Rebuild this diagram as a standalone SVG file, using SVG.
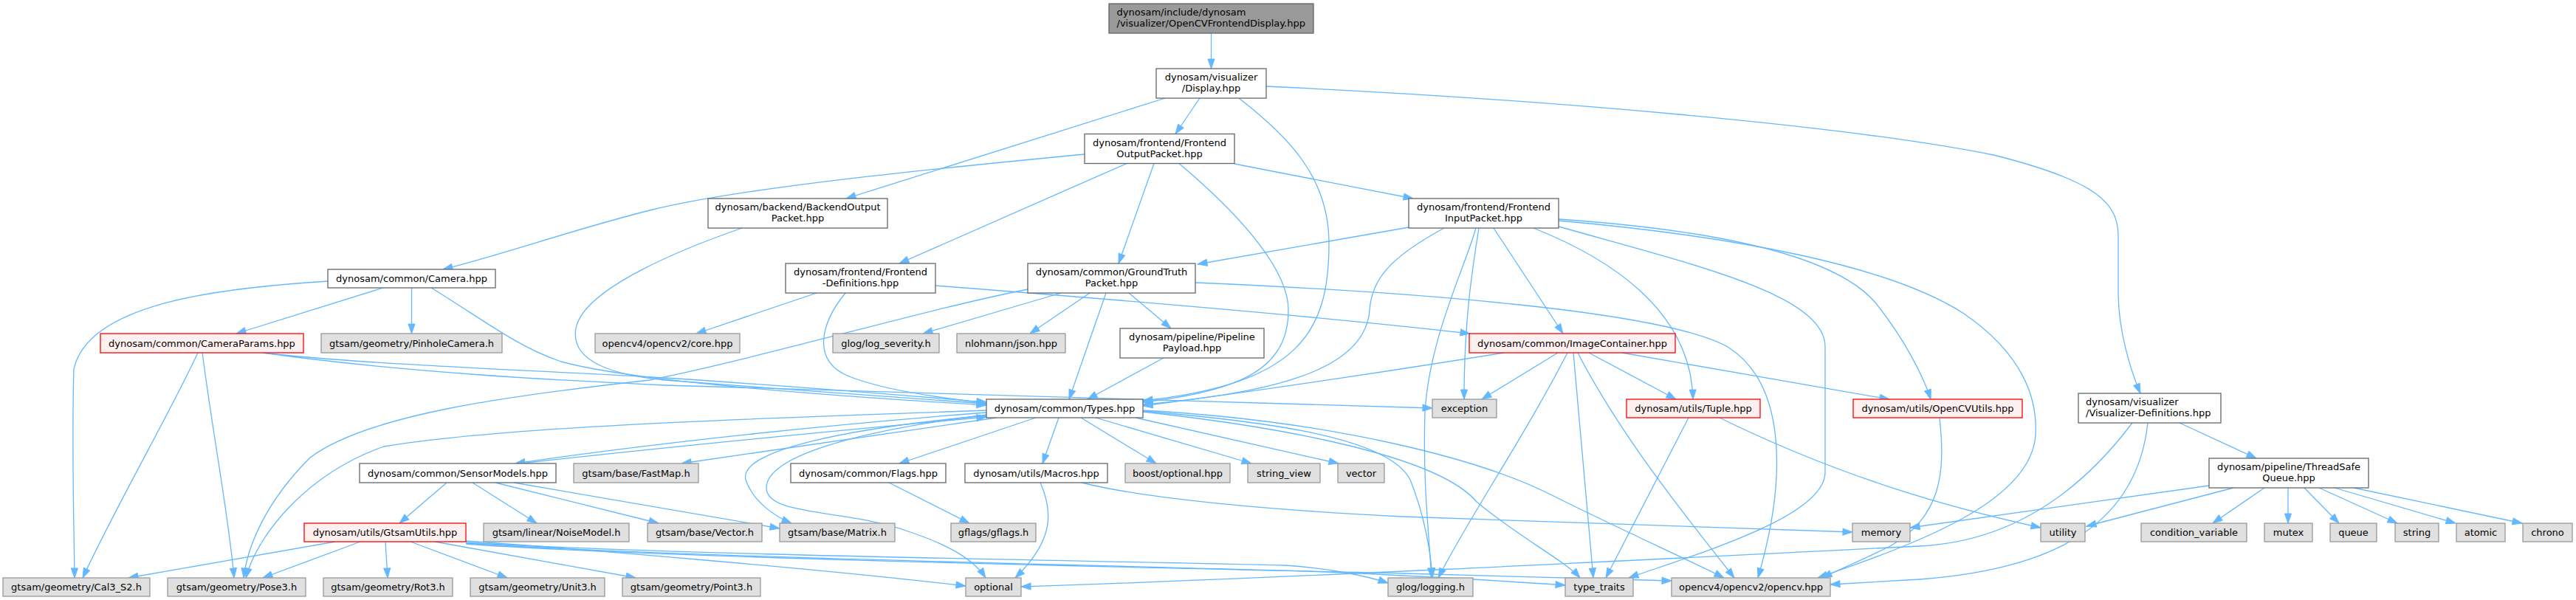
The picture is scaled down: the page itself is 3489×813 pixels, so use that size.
<svg xmlns="http://www.w3.org/2000/svg" width="3489" height="813" viewBox="0 0 3489 813">
<style>
rect{stroke-width:1.3}
.w{fill:#ffffff;stroke:#666666}
.g{fill:#e0e0e0;stroke:#999999}
.r{fill:#fff0f0;stroke:#ff0000}
.t{fill:#999999;stroke:#666666}
text{font-family:"DejaVu Sans","Liberation Sans",sans-serif;font-size:13px;fill:#000000}
.c{text-anchor:middle}
#edges path{fill:none;stroke:#63b8ff;stroke-width:1.3;marker-end:url(#a)}
</style>
<defs>
<marker id="a" markerUnits="userSpaceOnUse" markerWidth="14" markerHeight="10" refX="13" refY="4.5" orient="auto" overflow="visible"><path d="M0,0 L13,4.5 L0,9 z" fill="#63b8ff" stroke="#63b8ff" stroke-width="1"/></marker>
</defs>
<rect width="3489" height="813" fill="#ffffff"/>
<g id="edges">
<path d="M1640.5,45 L1640.5,93"/>
<path d="M1578,133 L1146,269"/>
<path d="M1625,133 L1592,181.5"/>
<path d="M1678,133 C1745,185 1800,240 1800,330 C1800,450 1760,520 1548,543"/>
<path d="M1715,117 C2100,135 2500,170 2700,210 C2840,245 2869,275 2869,320 L2869,400 C2870,450 2885,500 2899,533"/>
<path d="M1469,209 C1250,230 1000,255 880,285 C780,310 680,345 600,365"/>
<path d="M1526,221.5 L1218,357"/>
<path d="M1563,221.5 L1515,357"/>
<path d="M1597,221.5 C1690,300 1745,370 1745,420 C1745,500 1680,530 1548,545"/>
<path d="M1672,222 L1914,269"/>
<path d="M1005,309 C930,335 790,390 780,445 C772,490 830,508 900,515 C1050,527 1250,540 1336,547"/>
<path d="M1908,308 L1622,358"/>
<path d="M1956,309 C1880,350 1858,380 1855,420 C1850,490 1760,530 1548,548"/>
<path d="M1999,309 C1985,360 1935,460 1930,560 C1927,650 1935,720 1939,783"/>
<path d="M2003,309 C1995,360 1983,430 1983,541"/>
<path d="M2023,309 L2117,452"/>
<path d="M2077,309 C2180,350 2290,420 2293,541"/>
<path d="M2111,307 C2300,360 2472,400 2472,470 L2472,640 C2472,700 2300,750 2206,783"/>
<path d="M2111,297 C2300,310 2480,340 2540,410 C2580,460 2605,510 2615,541"/>
<path d="M2111,299 C2350,320 2560,360 2660,425 C2740,480 2760,540 2757,590 C2750,680 2600,735 2462,783"/>
<path d="M519,390 L320,452"/>
<path d="M557.5,390 L557.5,452"/>
<path d="M584,390 C650,430 700,470 760,490 C850,515 1100,535 1336,549"/>
<path d="M444,381 C300,390 120,410 100,500 C97,600 100,700 101,783"/>
<path d="M1106,397 L943,452"/>
<path d="M1145,397 C1110,440 1100,490 1150,510 C1200,530 1280,540 1336,546"/>
<path d="M1267,387 C1500,405 1800,430 1991,452"/>
<path d="M1392,392 C1250,420 1050,480 880,515 C700,535 500,560 420,620 C360,680 335,740 330,783"/>
<path d="M1437,397 L1250,452"/>
<path d="M1476,397 L1395,452"/>
<path d="M1498,397 L1448,541"/>
<path d="M1529,397 L1586,445"/>
<path d="M1619,383 C1900,395 2250,420 2340,470 C2420,520 2420,650 2381,783"/>
<path d="M268,478 C230,560 160,680 112,783"/>
<path d="M274,478 C290,600 310,700 317,783"/>
<path d="M356,478 C500,495 800,505 900,512 C1100,525 1250,538 1336,545"/>
<path d="M356,478 C550,505 750,515 900,522 C1300,535 1700,545 1940,553"/>
<path d="M1576,485 L1473,541"/>
<path d="M2037,478 C1900,500 1700,530 1548,550"/>
<path d="M2110,478 L2007,541"/>
<path d="M2123,478 C2060,600 1990,700 1948,783"/>
<path d="M2131,478 L2158,783"/>
<path d="M2137,478 C2200,600 2300,720 2349,783"/>
<path d="M2152,478 L2270,541"/>
<path d="M2197,478 L2559,541"/>
<path d="M2287,566 L2175,783"/>
<path d="M2329,566 C2500,650 2650,690 2764,715"/>
<path d="M2627,566 C2635,640 2630,700 2560,740 C2520,760 2490,772 2468,783"/>
<path d="M2952,573 L3056,621"/>
<path d="M2888,573 C2800,690 2700,735 2600,740 C2200,760 1700,785 1383,795"/>
<path d="M2909,573 C2895,700 2800,770 2600,785 C2550,788 2510,790 2479,792"/>
<path d="M605,654 L541,709"/>
<path d="M640,654 L727,709"/>
<path d="M671,654 L892,709"/>
<path d="M696,654 L1056,716"/>
<path d="M705,628 C900,606 1150,582 1336,565"/>
<path d="M1336,559 C1150,573 900,598 698,628"/>
<path d="M1350,566 L923,628"/>
<path d="M1403,566 L1218,628"/>
<path d="M1434,566 L1412,628"/>
<path d="M1464,566 L1566,628"/>
<path d="M1484,566 L1695,628"/>
<path d="M1538,566 L1813,628"/>
<path d="M1336,556 C1100,565 700,575 520,605 C420,640 350,720 333,783"/>
<path d="M1336,563 C1150,580 1000,610 1010,650 C1020,680 1050,700 1072,709"/>
<path d="M1336,562 C1150,585 1040,620 1038,660 C1036,700 1150,690 1230,720 C1290,740 1320,760 1335,783"/>
<path d="M1548,557 C1700,570 1880,590 1910,650 C1930,700 1938,750 1940,783"/>
<path d="M1548,558 C1750,580 1950,620 2000,680 C2060,730 2120,760 2140,783"/>
<path d="M1548,556 C1800,570 2000,620 2100,670 C2200,720 2290,760 2335,783"/>
<path d="M1409,654 C1425,690 1430,730 1375,783"/>
<path d="M1465,654 C1550,675 1700,690 1900,700 C2200,712 2400,718 2509,721"/>
<path d="M1204,654 L1313,709"/>
<path d="M454,734 L174,783"/>
<path d="M488,734 L356,783"/>
<path d="M522,734 L525,783"/>
<path d="M556,734 L687,783"/>
<path d="M589,734 L861,783"/>
<path d="M631,733 C800,745 1100,770 1308,794"/>
<path d="M631,735 C900,752 1500,760 1740,766 C1800,770 1850,780 1880,790"/>
<path d="M631,736 C900,755 1600,768 1800,775 C1950,782 2050,788 2120,793"/>
<path d="M631,737 C900,757 1700,772 1900,777 C2050,782 2180,785 2264,787"/>
<path d="M3025,661 L2826,713"/>
<path d="M3067,661 L2997,709"/>
<path d="M3099,661 L3099,709"/>
<path d="M3121,661 L3168,709"/>
<path d="M3141,661 L3247,709"/>
<path d="M3162,661 L3326,709"/>
<path d="M3188,661 L3416,709"/>
<path d="M2992,658 L2587,715"/>
</g>
<g id="n0"><rect class="t" x="1502" y="5" width="277" height="40"/><text x="1512.5" y="21">dynosam/include/dynosam</text><text x="1512.5" y="36">/visualizer/OpenCVFrontendDisplay.hpp</text></g>
<g id="n1"><rect class="w" x="1566" y="93" width="149" height="40"/><text class="c" x="1640.5" y="109">dynosam/visualizer</text><text class="c" x="1640.5" y="124">/Display.hpp</text></g>
<g id="n2"><rect class="w" x="1469" y="181.5" width="203" height="40"/><text class="c" x="1570.5" y="197.5">dynosam/frontend/Frontend</text><text class="c" x="1570.5" y="212.5">OutputPacket.hpp</text></g>
<g id="n3"><rect class="w" x="959" y="269" width="243" height="40"/><text class="c" x="1080.5" y="285">dynosam/backend/BackendOutput</text><text class="c" x="1080.5" y="300">Packet.hpp</text></g>
<g id="n4"><rect class="w" x="1908" y="269" width="203" height="40"/><text class="c" x="2009.5" y="285">dynosam/frontend/Frontend</text><text class="c" x="2009.5" y="300">InputPacket.hpp</text></g>
<g id="n5"><rect class="w" x="444" y="365" width="227" height="25"/><text class="c" x="557.5" y="382">dynosam/common/Camera.hpp</text></g>
<g id="n6"><rect class="w" x="1064" y="357" width="203" height="40"/><text class="c" x="1165.5" y="373">dynosam/frontend/Frontend</text><text class="c" x="1165.5" y="388">-Definitions.hpp</text></g>
<g id="n7"><rect class="w" x="1392" y="357" width="227" height="40"/><text class="c" x="1505.5" y="373">dynosam/common/GroundTruth</text><text class="c" x="1505.5" y="388">Packet.hpp</text></g>
<g id="n8"><rect class="r" x="136" y="452" width="275" height="26"/><text class="c" x="273.5" y="469.5">dynosam/common/CameraParams.hpp</text></g>
<g id="n9"><rect class="g" x="435" y="452" width="245" height="26"/><text class="c" x="557.5" y="469.5">gtsam/geometry/PinholeCamera.h</text></g>
<g id="n10"><rect class="g" x="806" y="452" width="196" height="26"/><text class="c" x="904" y="469.5">opencv4/opencv2/core.hpp</text></g>
<g id="n11"><rect class="g" x="1128" y="452" width="144" height="26"/><text class="c" x="1200" y="469.5">glog/log_severity.h</text></g>
<g id="n12"><rect class="g" x="1296" y="452" width="147" height="26"/><text class="c" x="1369.5" y="469.5">nlohmann/json.hpp</text></g>
<g id="n13"><rect class="w" x="1517" y="445" width="195" height="40"/><text class="c" x="1614.5" y="461">dynosam/pipeline/Pipeline</text><text class="c" x="1614.5" y="476">Payload.hpp</text></g>
<g id="n14"><rect class="r" x="1990" y="452" width="279" height="26"/><text class="c" x="2129.5" y="469.5">dynosam/common/ImageContainer.hpp</text></g>
<g id="n15"><rect class="w" x="1336" y="541" width="212" height="25"/><text class="c" x="1442" y="558">dynosam/common/Types.hpp</text></g>
<g id="n16"><rect class="g" x="1940" y="541" width="87" height="25"/><text class="c" x="1983.5" y="558">exception</text></g>
<g id="n17"><rect class="r" x="2203" y="541" width="181" height="25"/><text class="c" x="2293.5" y="558">dynosam/utils/Tuple.hpp</text></g>
<g id="n18"><rect class="r" x="2510" y="541" width="229" height="25"/><text class="c" x="2624.5" y="558">dynosam/utils/OpenCVUtils.hpp</text></g>
<g id="n19"><rect class="w" x="2815" y="533" width="193" height="40"/><text x="2825" y="549">dynosam/visualizer</text><text x="2825" y="564">/Visualizer-Definitions.hpp</text></g>
<g id="n20"><rect class="w" x="487" y="628" width="266" height="26"/><text class="c" x="620" y="645.5">dynosam/common/SensorModels.hpp</text></g>
<g id="n21"><rect class="g" x="777" y="628" width="169" height="26"/><text class="c" x="861.5" y="645.5">gtsam/base/FastMap.h</text></g>
<g id="n22"><rect class="w" x="1071" y="628" width="210" height="26"/><text class="c" x="1176" y="645.5">dynosam/common/Flags.hpp</text></g>
<g id="n23"><rect class="w" x="1307" y="628" width="193" height="26"/><text class="c" x="1403.5" y="645.5">dynosam/utils/Macros.hpp</text></g>
<g id="n24"><rect class="g" x="1524" y="628" width="142" height="26"/><text class="c" x="1595" y="645.5">boost/optional.hpp</text></g>
<g id="n25"><rect class="g" x="1690" y="628" width="98" height="26"/><text class="c" x="1739" y="645.5">string_view</text></g>
<g id="n26"><rect class="g" x="1812" y="628" width="63" height="26"/><text class="c" x="1843.5" y="645.5">vector</text></g>
<g id="n27"><rect class="w" x="2992" y="621" width="216" height="40"/><text class="c" x="3100" y="637">dynosam/pipeline/ThreadSafe</text><text class="c" x="3100" y="652">Queue.hpp</text></g>
<g id="n28"><rect class="r" x="412" y="709" width="219" height="25"/><text class="c" x="521.5" y="726">dynosam/utils/GtsamUtils.hpp</text></g>
<g id="n29"><rect class="g" x="655" y="709" width="197" height="25"/><text class="c" x="753.5" y="726">gtsam/linear/NoiseModel.h</text></g>
<g id="n30"><rect class="g" x="877" y="709" width="155" height="25"/><text class="c" x="954.5" y="726">gtsam/base/Vector.h</text></g>
<g id="n31"><rect class="g" x="1056" y="709" width="156" height="25"/><text class="c" x="1134" y="726">gtsam/base/Matrix.h</text></g>
<g id="n32"><rect class="g" x="1288" y="709" width="115" height="25"/><text class="c" x="1345.5" y="726">gflags/gflags.h</text></g>
<g id="n33"><rect class="g" x="2509" y="709" width="78" height="25"/><text class="c" x="2548" y="726">memory</text></g>
<g id="n34"><rect class="g" x="2764" y="709" width="60" height="25"/><text class="c" x="2794" y="726">utility</text></g>
<g id="n35"><rect class="g" x="2900" y="709" width="143" height="25"/><text class="c" x="2971.5" y="726">condition_variable</text></g>
<g id="n36"><rect class="g" x="3067" y="709" width="65" height="25"/><text class="c" x="3099.5" y="726">mutex</text></g>
<g id="n37"><rect class="g" x="3156" y="709" width="63" height="25"/><text class="c" x="3187.5" y="726">queue</text></g>
<g id="n38"><rect class="g" x="3244" y="709" width="59" height="25"/><text class="c" x="3273.5" y="726">string</text></g>
<g id="n39"><rect class="g" x="3327" y="709" width="66" height="25"/><text class="c" x="3360" y="726">atomic</text></g>
<g id="n40"><rect class="g" x="3417" y="709" width="67" height="25"/><text class="c" x="3450.5" y="726">chrono</text></g>
<g id="n41"><rect class="g" x="4" y="783" width="199" height="25"/><text class="c" x="103.5" y="800">gtsam/geometry/Cal3_S2.h</text></g>
<g id="n42"><rect class="g" x="227" y="783" width="187" height="25"/><text class="c" x="320.5" y="800">gtsam/geometry/Pose3.h</text></g>
<g id="n43"><rect class="g" x="438" y="783" width="175" height="25"/><text class="c" x="525.5" y="800">gtsam/geometry/Rot3.h</text></g>
<g id="n44"><rect class="g" x="637" y="783" width="182" height="25"/><text class="c" x="728" y="800">gtsam/geometry/Unit3.h</text></g>
<g id="n45"><rect class="g" x="843" y="783" width="187" height="25"/><text class="c" x="936.5" y="800">gtsam/geometry/Point3.h</text></g>
<g id="n46"><rect class="g" x="1308" y="783" width="75" height="25"/><text class="c" x="1345.5" y="800">optional</text></g>
<g id="n47"><rect class="g" x="1880" y="783" width="115" height="25"/><text class="c" x="1937.5" y="800">glog/logging.h</text></g>
<g id="n48"><rect class="g" x="2120" y="783" width="92" height="25"/><text class="c" x="2166" y="800">type_traits</text></g>
<g id="n49"><rect class="g" x="2264" y="783" width="215" height="25"/><text class="c" x="2371.5" y="800">opencv4/opencv2/opencv.hpp</text></g>
</svg>
